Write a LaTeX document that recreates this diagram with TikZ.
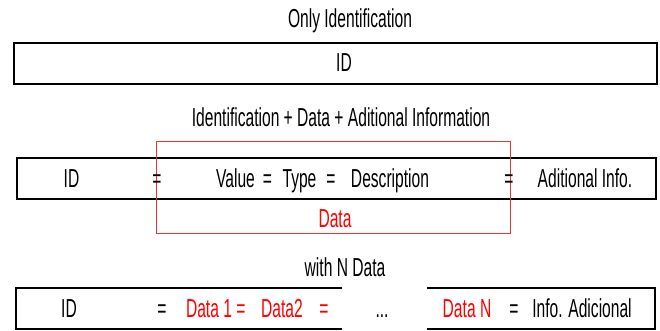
\documentclass[tikz,border=0pt]{standalone}
\usepackage{fontspec}
\setmainfont[FakeStretch=0.6]{Liberation Sans}
\definecolor{boxred}{RGB}{238,50,50}
\begin{document}
\begin{tikzpicture}[x=1pt,y=-1pt,
  txt/.style={anchor=base,inner sep=0pt,font=\fontsize{26}{29}\selectfont},
  rtxt/.style={txt,text=red},
  frame/.style={draw=black,line width=2.8pt},
  redframe/.style={draw=boxred,line width=1pt}]
\useasboundingbox (0,0) rectangle (660,331);
% titles
\node[txt] (t1) at (350,28) {Only Identification};
\node[txt] (t2) at (341,127) {Identification + Data + Aditional Information};
\node[txt] (t3) at (345,276) {with N Data};
% box 1
\draw[frame] (14,43) rectangle (657,84);
\node[txt] (id1) at (344,72) {ID};
% box 2
\draw[frame] (17,158) rectangle (656,199);
\draw[redframe] (156,142) rectangle (510,233);
\node[txt] (id2) at (71.5,187) {ID};
\node[txt] (e21) at (157,187) {=};
\node[txt] (val) at (235.5,187) {Value};
\node[txt] (e22) at (267.5,187) {=};
\node[txt] (typ) at (299.5,187) {Type};
\node[txt] (e23) at (331,187) {=};
\node[txt] (des) at (390,187) {Description};
\node[txt] (e24) at (509,187) {=};
\node[txt] (add) at (585,187) {Aditional Info.};
\node[rtxt] (dat) at (335,227) {Data};
% box 3
\draw[frame] (342,288) -- (16,288) -- (16,329) -- (342,329);
\draw[frame] (427,288) -- (655,288) -- (655,329) -- (427,329);
\node[txt] (id3) at (69,317) {ID};
\node[txt] (e31) at (162,317) {=};
\node[rtxt] (d1) at (209,317) {Data 1};
\node[rtxt] (e32) at (241,317) {=};
\node[rtxt] (d2) at (282,317) {Data2};
\node[rtxt] (e33) at (324,317) {=};
\node[txt] (dots) at (382,317) {...};
\node[rtxt] (dn) at (467,317) {Data N};
\node[txt] (e34) at (514,317) {=};
\node[txt] (inf) at (582,317) {Info. Adicional};
\end{tikzpicture}
\end{document}
